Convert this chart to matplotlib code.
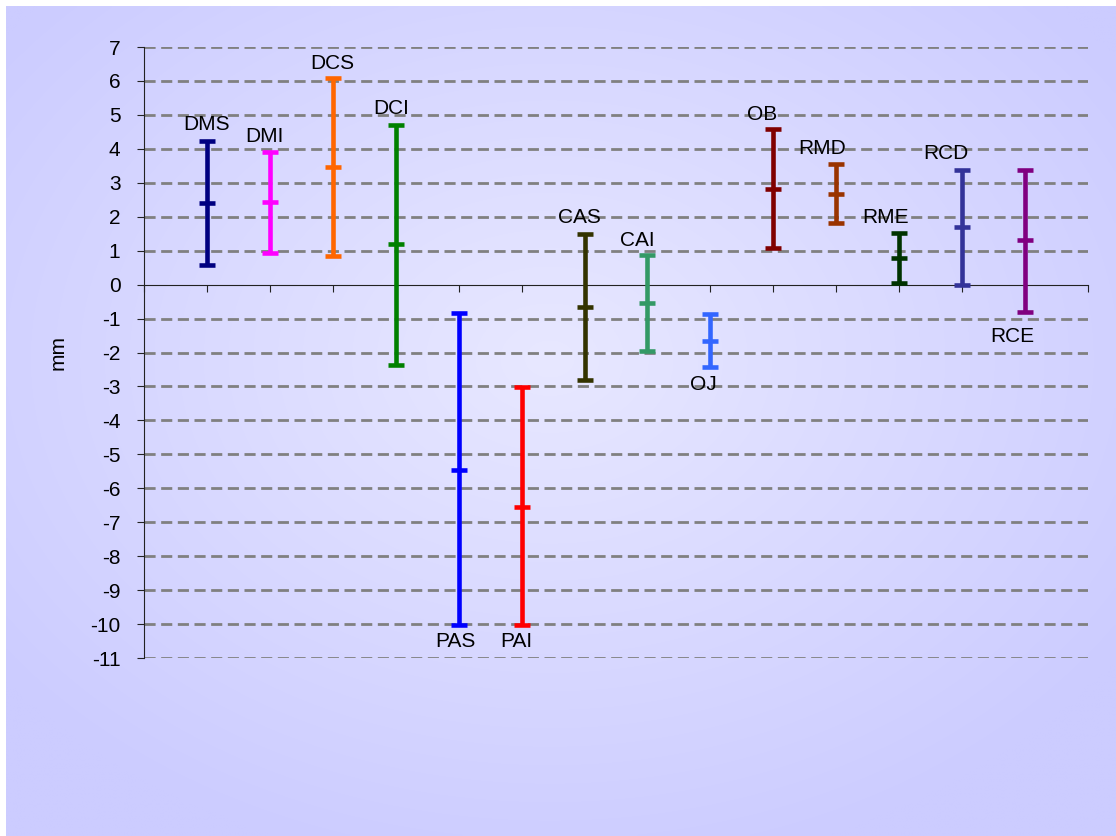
import numpy as np
import matplotlib.pyplot as plt

plt.rcParams['font.family'] = ['Liberation Sans', 'DejaVu Sans']
plt.rcParams['axes.unicode_minus'] = False

labels = ['DMS', 'DMI', 'DCS', 'DCI', 'PAS', 'PAI', 'CAS', 'CAI', 'OJ',
          'OB', 'RMD', 'RME', 'RCD', 'RCE']
high = [4.22, 3.91, 6.10, 4.71, -0.85, -3.02, 1.50, 0.86, -0.88,
        4.57, 3.54, 1.53, 3.39, 3.39]
mean = [2.39, 2.42, 3.47, 1.19, -5.45, -6.55, -0.66, -0.54, -1.66,
        2.83, 2.68, 0.77, 1.69, 1.30]
low = [0.57, 0.93, 0.84, -2.38, -10.04, -10.04, -2.80, -1.95, -2.43,
       1.08, 1.81, 0.04, 0.00, -0.81]
colors = ['#000080', '#FF00FF', '#FF6600', '#008000', '#0000FF', '#FF0000',
          '#333300', '#339966', '#3366FF', '#800000', '#993300', '#003300',
          '#333399', '#800080']
# name placement: offset in points from the top (positive) or bottom (negative) end
label_dx = [0, -4, 0, -3, -2, -4, -4, -7, -5, -8, -10, -10, -12, -9]
label_dy = [5, 4, 3, 5, -5, -5, 5, 4, -6, 4, 5, 4, 5, -11]

fig = plt.figure(figsize=(11.16, 8.36), dpi=100)
fig.patch.set_facecolor('white')

# lavender background, lighter towards the middle
bg = fig.add_axes([6 / 1116, 0, 1 - 6 / 1116, 1 - 6 / 836], zorder=0)
gx, gy = np.meshgrid(np.linspace(-1, 1, 400), np.linspace(-1, 1, 300))
d = np.clip(np.sqrt((gx + 0.02) ** 2 + (gy + 0.15) ** 2) / 1.25, 0, 1)
edge = np.array([204, 204, 255]) / 255
mid = np.array([232, 232, 255]) / 255
img = mid + (edge - mid) * d[..., None]
bg.imshow(img, aspect='auto', interpolation='bilinear')
bg.axis('off')

ax = fig.add_axes([144 / 1116, 1 - 658 / 836, (1088 - 144) / 1116, (658 - 47) / 836], zorder=1)
ax.patch.set_alpha(0)

x = np.arange(1, len(labels) + 1)
for i in range(len(labels)):
    c = colors[i]
    ax.vlines(x[i], low[i], high[i], color=c, lw=3.3, zorder=3)
    ax.plot([x[i]] * 3, [low[i], mean[i], high[i]], ls='none', marker='_',
            ms=11, mew=3.3, color=c, zorder=4)
    if label_dy[i] > 0:
        ax.annotate(labels[i], (x[i], high[i]), xytext=(label_dx[i], label_dy[i]),
                    textcoords='offset points', ha='center', va='bottom', fontsize=15)
    else:
        ax.annotate(labels[i], (x[i], low[i]), xytext=(label_dx[i], label_dy[i]),
                    textcoords='offset points', ha='center', va='top', fontsize=15)

ax.set_xlim(0, 15)
ax.set_ylim(-11, 7)
ax.set_yticks(range(-11, 8))
ax.set_xticks(range(0, 16))
ax.set_xticklabels([])
for yv in range(-11, 8):
    if yv != 0:
        ax.axhline(yv, color='#808080', lw=2, ls=(0, (4, 2)), zorder=1)

for s in ['top', 'right']:
    ax.spines[s].set_visible(False)
ax.spines['bottom'].set_position(('data', 0))
ax.spines['bottom'].set_color('#222222')
ax.spines['left'].set_color('#222222')
ax.tick_params(axis='y', labelsize=15, length=5, color='#222222', pad=12)
ax.tick_params(axis='x', length=5, color='#222222')
ax.set_ylabel('mm', fontsize=15, labelpad=16)

fig.savefig('out.png', dpi=100)
